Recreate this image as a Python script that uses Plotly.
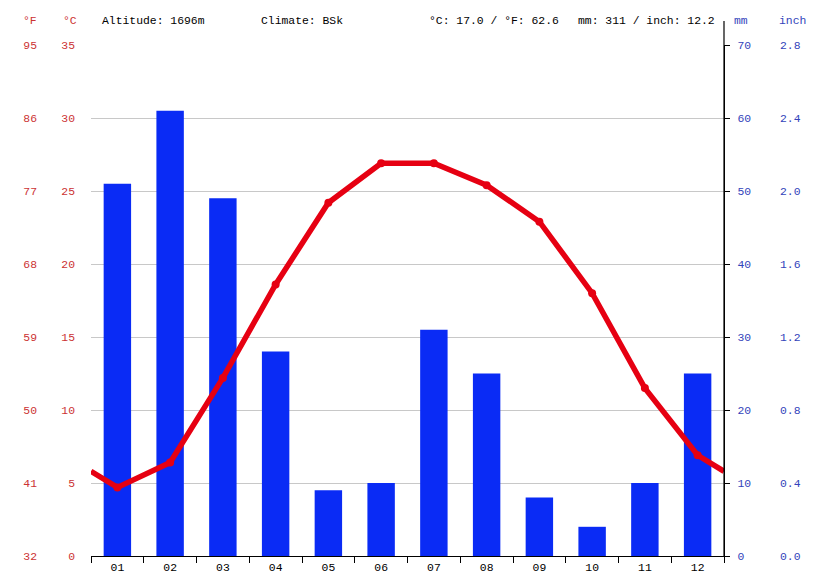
import plotly.graph_objects as go

months = ["01", "02", "03", "04", "05", "06", "07", "08", "09", "10", "11", "12"]
month_pos = [1, 2, 3, 4, 5, 6, 7, 8, 9, 10, 11, 12]
precip_mm = [51, 61, 49, 28, 9, 10, 31, 25, 8, 4, 10, 25]
temp_c = [4.7, 6.4, 12.2, 18.6, 24.2, 26.9, 26.9, 25.4, 22.9, 18.0, 11.5, 6.9]
edge_pos = [0.5, 12.5]
edge_temp_c = [5.8, 5.8]

c_ticks = [0, 5, 10, 15, 20, 25, 30, 35]
f_ticks = [32, 41, 50, 59, 68, 77, 86, 95]
mm_ticks = [0, 10, 20, 30, 40, 50, 60, 70]
inch_ticks = ["0.0", "0.4", "0.8", "1.2", "1.6", "2.0", "2.4", "2.8"]

header_left = ["Altitude: 1696m", "Climate: BSk"]
header_right = ["°C: 17.0 / °F: 62.6", "mm: 311 / inch: 12.2"]

FONT = "Liberation Mono"
RED_TXT = "#cc3333"
BLUE_TXT = "#3344bb"
FS = 11.4

# page has an 8px body margin; work in page pixels and convert
OFF = 8
W, H = 815 - OFF, 580 - OFF
L, R, T, B = 91 - OFF, 724 - OFF, 45 - OFF, 556 - OFF

def px(xp):
    return (xp - OFF - L) / (R - L)

def py(yp):
    return (B - (yp - OFF)) / (B - T)

fig = go.Figure()
fig.add_trace(go.Bar(x=month_pos, y=precip_mm, width=0.52, marker_color="#0a2bf5",
                     marker_line_width=0, yaxis="y", hoverinfo="skip"))
line_x = [edge_pos[0]] + month_pos + [edge_pos[1]]
line_y = [edge_temp_c[0]] + temp_c + [edge_temp_c[1]]
fig.add_trace(go.Scatter(x=line_x, y=line_y, mode="lines", line=dict(color="#e60012", width=5.5),
                         yaxis="y2", hoverinfo="skip"))
fig.add_trace(go.Scatter(x=month_pos, y=temp_c, mode="markers",
                         marker=dict(color="#e60012", size=8), yaxis="y2", hoverinfo="skip"))
# empty traces so the °F and inch axes get drawn
fig.add_trace(go.Scatter(x=[None], y=[None], yaxis="y3", hoverinfo="skip"))
fig.add_trace(go.Scatter(x=[None], y=[None], yaxis="y4", hoverinfo="skip"))

fig.update_layout(
    width=W, height=H, showlegend=False,
    margin=dict(l=L, r=W - R, t=T, b=H - B, pad=0, autoexpand=False),
    plot_bgcolor="white", paper_bgcolor="white",
    font=dict(family=FONT, size=FS, color="black"),
    xaxis=dict(range=[0.5, 12.5], tickvals=month_pos, ticktext=months, ticks="", automargin=False,
               showline=True, linecolor="black", linewidth=1.2, showgrid=False, zeroline=False,
               tickfont=dict(family=FONT, size=FS, color="black"),
               minor=dict(tickvals=[i + 0.5 for i in range(0, 13)], ticks="outside", ticklen=6,
                          tickcolor="black", tickwidth=1, showgrid=False)),
    yaxis=dict(range=[0, 70], tickvals=mm_ticks, side="right", showgrid=True, gridcolor="#c8c8c8",
               gridwidth=1, zeroline=False, showline=True, linecolor="black", linewidth=1.2,
               ticks="outside", ticklen=5, tickcolor="black", automargin=False,
               tickfont=dict(family=FONT, size=FS, color=BLUE_TXT), ticklabelstandoff=5),
    yaxis2=dict(range=[0, 35], tickvals=c_ticks, overlaying="y", side="left", showgrid=False,
                zeroline=False, showline=False, ticks="", automargin=False,
                tickfont=dict(family=FONT, size=FS, color=RED_TXT), ticklabelstandoff=15),
    yaxis3=dict(range=[32, 95], tickvals=f_ticks, overlaying="y", side="left", anchor="free",
                position=0, showgrid=False, zeroline=False, showline=False, ticks="", automargin=False,
                tickfont=dict(family=FONT, size=FS, color=RED_TXT), ticklabelstandoff=54),
    yaxis4=dict(range=[0, 70], tickvals=mm_ticks, ticktext=inch_ticks, overlaying="y", side="right",
                anchor="free", position=1, showgrid=False, zeroline=False, showline=False, ticks="",
                automargin=False,
                tickfont=dict(family=FONT, size=FS, color=BLUE_TXT), ticklabelstandoff=55),
)

fig.add_shape(type="line", xref="paper", yref="paper", x0=1, x1=1, y0=0, y1=py(21),
              line=dict(color="black", width=1.2))

hy = py(21)
ann = [
    ("°F", 30, RED_TXT, "center"),
    ("°C", 70, RED_TXT, "center"),
    ("mm", 741, BLUE_TXT, "center"),
    ("inch", 792, BLUE_TXT, "center"),
    (header_left[0], 100, "black", "left"),
    (header_left[1], 259, "black", "left"),
    (header_right[0], 427, "black", "left"),
    (header_right[1], 576, "black", "left"),
]
for text, xp, col, anchor in ann:
    fig.add_annotation(text=text, xref="paper", yref="paper", x=px(xp), y=hy, xanchor=anchor,
                       yanchor="middle", showarrow=False,
                       font=dict(family=FONT, size=FS, color=col))

fig.write_html("out.html")
